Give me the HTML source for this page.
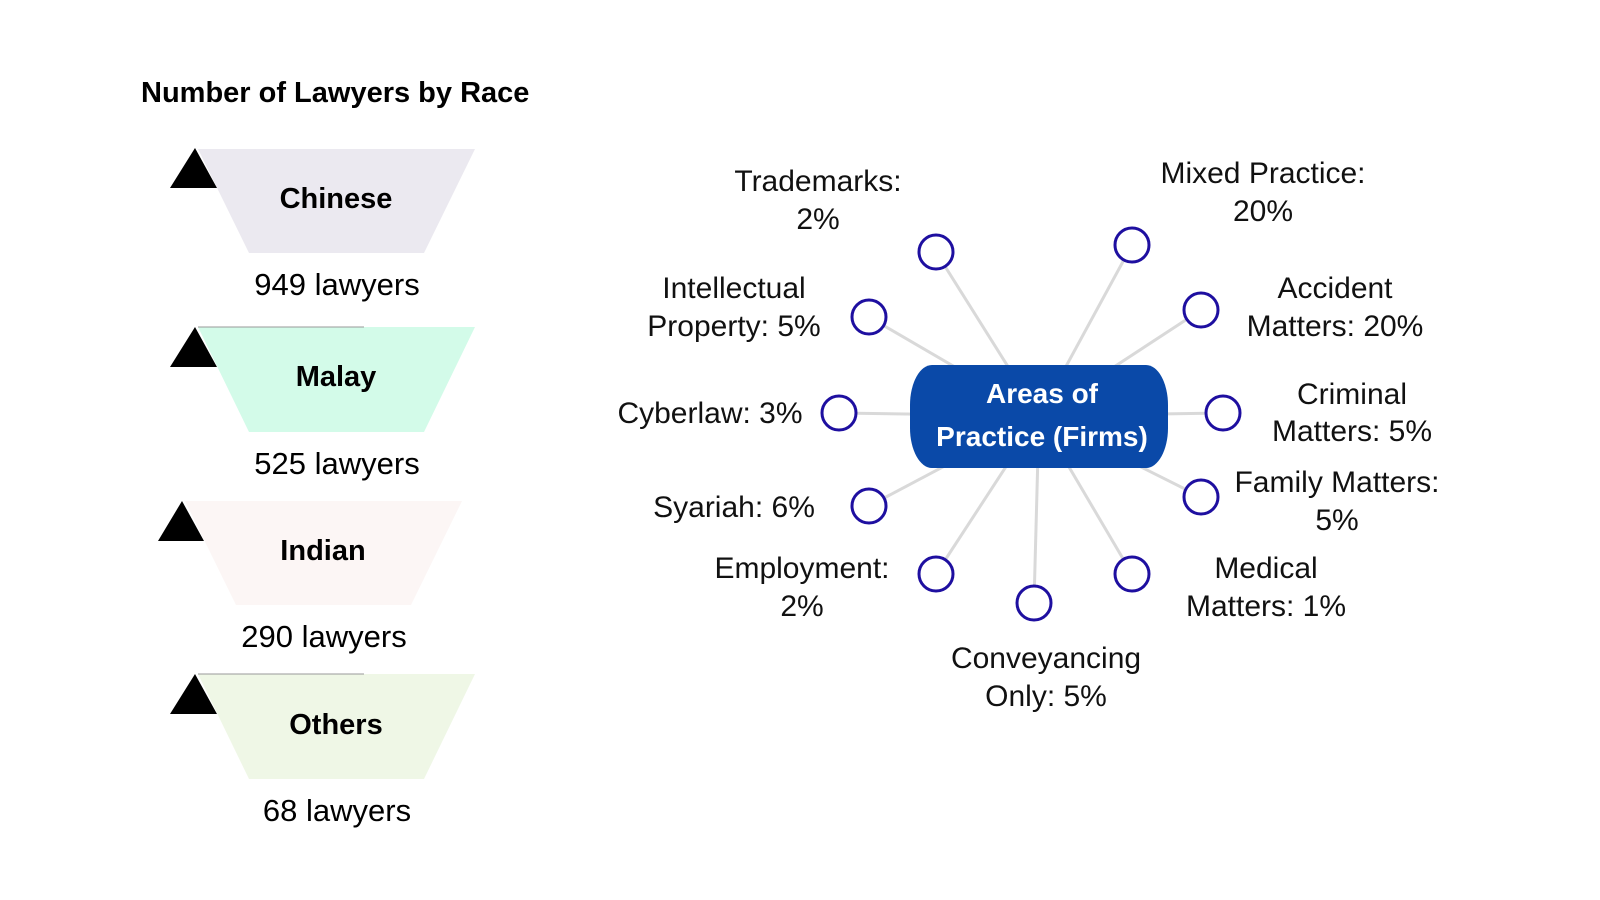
<!DOCTYPE html>
<html><head><meta charset="utf-8"><style>
html,body{margin:0;padding:0;background:#fff;}
body{width:1600px;height:900px;position:relative;overflow:hidden;font-family:"Liberation Sans",Roboto,sans-serif;}
svg{position:absolute;left:0;top:0;}
</style></head><body>
<svg width="1600" height="900" viewBox="0 0 1600 900" font-family="Liberation Sans, sans-serif">
<text x="141" y="102" font-size="29" font-weight="bold" fill="#000">Number of Lawyers by Race</text>

<!-- Chinese -->
<polygon points="198,149 475,149 424,253 249,253" fill="#ebe9f0"/>
<polygon points="195,148 217,188 170,188" fill="#000"/>
<text x="336" y="208" font-size="29" font-weight="bold" text-anchor="middle">Chinese</text>
<text x="337" y="295" font-size="31" text-anchor="middle">949 lawyers</text>
<!-- Malay -->
<polygon points="198,327 475,327 424,432 249,432" fill="#d3fbe9"/>
<line x1="198" y1="327" x2="364" y2="327" stroke="#999" stroke-width="1"/>
<polygon points="195,327 217,367 170,367" fill="#000"/>
<text x="336" y="386" font-size="29" font-weight="bold" text-anchor="middle">Malay</text>
<text x="337" y="474" font-size="31" text-anchor="middle">525 lawyers</text>
<!-- Indian -->
<polygon points="185,501 462,501 411,605 236,605" fill="#fcf6f5"/>
<polygon points="182,501 204,541 158,541" fill="#000"/>
<text x="323" y="560" font-size="29" font-weight="bold" text-anchor="middle">Indian</text>
<text x="324" y="647" font-size="31" text-anchor="middle">290 lawyers</text>
<!-- Others -->
<polygon points="198,674 475,674 424,779 249,779" fill="#eff7e6"/>
<line x1="198" y1="674" x2="364" y2="674" stroke="#999" stroke-width="1"/>
<polygon points="195,674 217,714 170,714" fill="#000"/>
<text x="336" y="734" font-size="29" font-weight="bold" text-anchor="middle">Others</text>
<text x="337" y="821" font-size="31" text-anchor="middle">68 lawyers</text>

<!-- spokes -->
<g stroke="#d9d9d9" stroke-width="3">
<line x1="1039" y1="416" x2="936" y2="252"/>
<line x1="1039" y1="416" x2="1132" y2="245"/>
<line x1="1039" y1="416" x2="869" y2="317"/>
<line x1="1039" y1="416" x2="1201" y2="310"/>
<line x1="1039" y1="416" x2="839" y2="413"/>
<line x1="1039" y1="416" x2="1223" y2="413"/>
<line x1="1039" y1="416" x2="869" y2="506"/>
<line x1="1039" y1="416" x2="1201" y2="497"/>
<line x1="1039" y1="416" x2="936" y2="574"/>
<line x1="1039" y1="416" x2="1132" y2="574"/>
<line x1="1039" y1="416" x2="1034" y2="603"/>
</g>
<g fill="#fff" stroke="#1e0fa0" stroke-width="3">
<circle cx="936" cy="252" r="17"/>
<circle cx="1132" cy="245" r="17"/>
<circle cx="869" cy="317" r="17"/>
<circle cx="1201" cy="310" r="17"/>
<circle cx="839" cy="413" r="17"/>
<circle cx="1223" cy="413" r="17"/>
<circle cx="869" cy="506" r="17"/>
<circle cx="1201" cy="497" r="17"/>
<circle cx="936" cy="574" r="17"/>
<circle cx="1132" cy="574" r="17"/>
<circle cx="1034" cy="603" r="17"/>
</g>
<rect x="910" y="365" width="258" height="103" rx="22" ry="40" fill="#0a49a8"/>
<text fill="#fff" font-size="28" font-weight="bold" text-anchor="middle">
<tspan x="1042" y="403">Areas of</tspan><tspan x="1042" y="446">Practice (Firms)</tspan></text>

<g font-size="30" fill="#111" text-anchor="middle">
<text><tspan x="818" y="191">Trademarks:</tspan><tspan x="818" y="229">2%</tspan></text>
<text><tspan x="1263" y="183">Mixed Practice:</tspan><tspan x="1263" y="221">20%</tspan></text>
<text><tspan x="734" y="298">Intellectual</tspan><tspan x="734" y="336">Property: 5%</tspan></text>
<text><tspan x="1335" y="298">Accident</tspan><tspan x="1335" y="336">Matters: 20%</tspan></text>
<text x="710" y="423">Cyberlaw: 3%</text>
<text><tspan x="1352" y="404">Criminal</tspan><tspan x="1352" y="441">Matters: 5%</tspan></text>
<text x="734" y="517">Syariah: 6%</text>
<text><tspan x="1337" y="492">Family Matters:</tspan><tspan x="1337" y="530">5%</tspan></text>
<text><tspan x="802" y="578">Employment:</tspan><tspan x="802" y="616">2%</tspan></text>
<text><tspan x="1266" y="578">Medical</tspan><tspan x="1266" y="616">Matters: 1%</tspan></text>
<text><tspan x="1046" y="668">Conveyancing</tspan><tspan x="1046" y="706">Only: 5%</tspan></text>
</g>
</svg>
</body></html>
